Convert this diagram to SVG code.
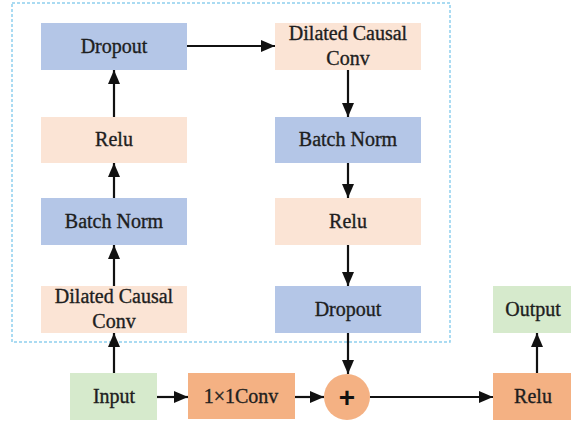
<svg xmlns="http://www.w3.org/2000/svg" width="572" height="423" viewBox="0 0 572 423">
<defs>
<marker id="ah" viewBox="0 0 14 12" refX="14" refY="6" markerWidth="14" markerHeight="12" markerUnits="userSpaceOnUse" orient="auto">
<path d="M0,0 L14,6 L0,12 Z" fill="#111"/>
</marker>
</defs>
<style>
.blue{fill:#b4c6e7}
.peach{fill:#fbe4d5}
.green{fill:#d6eacc}
.orange{fill:#f4b183}
text{font-family:"Liberation Serif","Times New Roman",serif;font-size:20px;fill:#1e1e1e;stroke:#1e1e1e;stroke-width:0.35;text-anchor:middle}
text.plus{font-family:"Liberation Sans",Arial,sans-serif;font-size:28px;font-weight:bold;stroke:none;fill:#111}
.c line{stroke:#111;stroke-width:2.2;marker-end:url(#ah)}
</style>
<rect x="12" y="3" width="438" height="339" fill="none" stroke="#8fd0ee" stroke-width="1.5" stroke-dasharray="3,2"/>
<g id="l_dropout"><rect class="blue" x="41" y="23" width="146" height="47"/><text x="114" y="53">Dropout</text></g>
<g id="l_relu"><rect class="peach" x="41" y="117" width="146" height="46"/><text x="114" y="146">Relu</text></g>
<g id="l_bn"><rect class="blue" x="41" y="198" width="146" height="47"/><text x="114" y="228">Batch Norm</text></g>
<g id="l_dcc"><rect class="peach" x="41" y="286" width="146" height="47"/><text x="114" y="303">Dilated Causal</text><text x="114" y="328">Conv</text></g>
<g id="r_dcc"><rect class="peach" x="275" y="23" width="146" height="47"/><text x="348" y="40">Dilated Causal</text><text x="348" y="65">Conv</text></g>
<g id="r_bn"><rect class="blue" x="275" y="117" width="146" height="46"/><text x="348" y="146">Batch Norm</text></g>
<g id="r_relu"><rect class="peach" x="275" y="198" width="146" height="47"/><text x="348" y="228">Relu</text></g>
<g id="r_dropout"><rect class="blue" x="275" y="286" width="146" height="47"/><text x="348" y="316">Dropout</text></g>
<g id="input"><rect class="green" x="70" y="373" width="87" height="47"/><text x="114" y="403">Input</text></g>
<g id="conv1"><rect class="orange" x="188" y="373" width="107" height="46"/><text x="241" y="403">1×1Conv</text></g>
<g id="add"><circle class="orange" cx="347" cy="397" r="23"/><text class="plus" x="347" y="407">+</text></g>
<g id="relu_out"><rect class="orange" x="493" y="373" width="78" height="47"/><text x="533" y="403">Relu</text></g>
<g id="output"><rect class="green" x="493" y="286" width="78" height="47"/><text x="533" y="316">Output</text></g>
<g class="c" id="connectors">
<line x1="187" y1="46" x2="275" y2="46"/>
<line x1="114" y1="117" x2="114" y2="70"/>
<line x1="114" y1="198" x2="114" y2="163"/>
<line x1="114" y1="286" x2="114" y2="245"/>
<line x1="114" y1="373" x2="114" y2="333"/>
<line x1="348" y1="70" x2="348" y2="117"/>
<line x1="348" y1="163" x2="348" y2="198"/>
<line x1="348" y1="245" x2="348" y2="286"/>
<line x1="348" y1="333" x2="348" y2="374"/>
<line x1="157" y1="397" x2="188" y2="397"/>
<line x1="295" y1="397" x2="324" y2="397"/>
<line x1="370" y1="397" x2="493" y2="397"/>
<line x1="537" y1="373" x2="537" y2="333"/>
</g>
</svg>
